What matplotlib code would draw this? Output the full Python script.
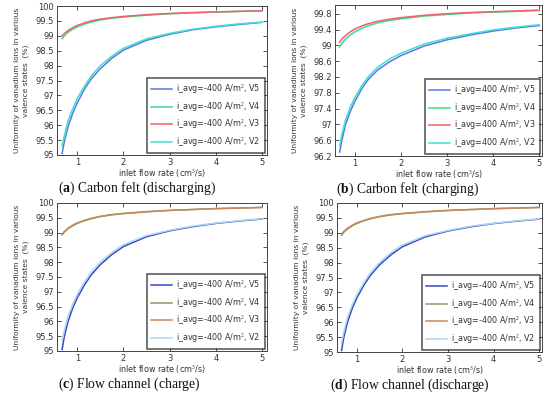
import matplotlib
matplotlib.use("Agg")
import matplotlib.pyplot as plt

# inlet flow rate (cm3/s)
flow = [0.67, 0.72, 0.8, 0.9, 1.0, 1.15, 1.3, 1.5, 1.75, 2.0, 2.5, 3.0, 3.5, 4.0, 4.5, 5.0]

# (a) carbon felt, discharging
a_v5 = [95.05, 95.45, 95.95, 96.4, 96.75, 97.2, 97.55, 97.9, 98.25, 98.52, 98.85, 99.05, 99.2, 99.3, 99.38, 99.45]
a_v4 = [98.9, 99.0, 99.12, 99.22, 99.3, 99.39, 99.46, 99.53, 99.59, 99.63, 99.69, 99.74, 99.77, 99.8, 99.82, 99.84]
a_v3 = [99.0, 99.08, 99.18, 99.27, 99.35, 99.43, 99.5, 99.56, 99.61, 99.65, 99.71, 99.75, 99.78, 99.8, 99.82, 99.84]
a_v2 = [95.3, 95.65, 96.15, 96.55, 96.9, 97.3, 97.65, 98.0, 98.32, 98.58, 98.9, 99.08, 99.22, 99.32, 99.4, 99.46]

# (b) carbon felt, charging
b_v5 = [96.3, 96.6, 97.0, 97.32, 97.58, 97.9, 98.15, 98.38, 98.58, 98.74, 98.98, 99.14, 99.26, 99.36, 99.44, 99.5]
b_v4 = [98.96, 99.05, 99.16, 99.26, 99.34, 99.43, 99.5, 99.57, 99.63, 99.67, 99.74, 99.78, 99.82, 99.84, 99.86, 99.88]
b_v3 = [99.08, 99.16, 99.25, 99.34, 99.41, 99.49, 99.55, 99.61, 99.66, 99.7, 99.76, 99.8, 99.83, 99.85, 99.87, 99.89]
b_v2 = [96.45, 96.75, 97.12, 97.43, 97.68, 97.98, 98.22, 98.45, 98.65, 98.8, 99.03, 99.18, 99.29, 99.39, 99.46, 99.52]

# (c) flow channel, charge
c_v5 = [95.05, 95.5, 96.0, 96.45, 96.8, 97.22, 97.57, 97.92, 98.26, 98.53, 98.86, 99.06, 99.2, 99.31, 99.39, 99.46]
c_v4 = [98.92, 99.02, 99.13, 99.23, 99.31, 99.4, 99.47, 99.54, 99.6, 99.64, 99.7, 99.75, 99.78, 99.81, 99.83, 99.85]
c_v3 = [98.95, 99.04, 99.15, 99.25, 99.33, 99.41, 99.48, 99.55, 99.61, 99.65, 99.71, 99.75, 99.78, 99.81, 99.83, 99.85]
c_v2 = [95.35, 95.7, 96.18, 96.58, 96.92, 97.32, 97.66, 98.0, 98.33, 98.59, 98.9, 99.08, 99.22, 99.32, 99.4, 99.47]

# (d) flow channel, discharge
d_v5 = [95.05, 95.5, 96.0, 96.45, 96.8, 97.22, 97.57, 97.92, 98.26, 98.53, 98.86, 99.06, 99.2, 99.31, 99.39, 99.46]
d_v4 = [98.92, 99.02, 99.13, 99.23, 99.31, 99.4, 99.47, 99.54, 99.6, 99.64, 99.7, 99.75, 99.78, 99.81, 99.83, 99.85]
d_v3 = [98.96, 99.05, 99.15, 99.25, 99.33, 99.41, 99.48, 99.55, 99.61, 99.65, 99.71, 99.75, 99.78, 99.81, 99.83, 99.85]
d_v2 = [95.3, 95.68, 96.16, 96.57, 96.91, 97.31, 97.65, 98.0, 98.33, 98.59, 98.9, 99.08, 99.22, 99.32, 99.4, 99.47]

labels_neg = ["i_avg=-400 A/m$^2$, V5", "i_avg=-400 A/m$^2$, V4",
              "i_avg=-400 A/m$^2$, V3", "i_avg=-400 A/m$^2$, V2"]
labels_pos = ["i_avg=400 A/m$^2$, V5", "i_avg=400 A/m$^2$, V4",
              "i_avg=400 A/m$^2$, V3", "i_avg=400 A/m$^2$, V2"]

colors_felt = ["#5b78e0", "#3ed88a", "#f0606a", "#3fe0d0"]
colors_chan = ["#3a45c8", "#8c9a6a", "#c8885a", "#a8d8f0"]

ticks_a = [95, 95.5, 96, 96.5, 97, 97.5, 98, 98.5, 99, 99.5, 100]
ticklabels_a = ["95", "95.5", "96", "96.5", "97", "97.5", "98", "98.5", "99", "99.5", "100"]
ticks_b = [96.2, 96.6, 97.0, 97.4, 97.8, 98.2, 98.6, 99.0, 99.4, 99.8]
ticklabels_b = ["96.2", "96.6", "97", "97.4", "97.8", "98.2", "98.6", "99", "99.4", "99.8"]

plt.rcParams["mathtext.fontset"] = "custom"
plt.rcParams["mathtext.rm"] = "Liberation Serif"
plt.rcParams["mathtext.bf"] = "Liberation Serif:bold"

W, H = 550, 394
fig = plt.figure(figsize=(5.5, 3.94), dpi=100)

def px_axes(l, t, r, b):
    return fig.add_axes([l / W, 1 - b / H, (r - l) / W, (b - t) / H])

panels = [
    # box(l,t,r,b), series, labels, colors, yticks, yticklabels, ylim, xlim, caption letter, caption text, caption x
    ((57, 6, 267, 155), [a_v5, a_v4, a_v3, a_v2], labels_neg, colors_felt, ticks_a, ticklabels_a,
     (95, 100), (0.56, 5.11), "a", "Carbon felt (discharging)", 137),
    ((335, 5, 542, 156), [b_v5, b_v4, b_v3, b_v2], labels_pos, colors_felt, ticks_b, ticklabels_b,
     (96.2, 100.02), (0.57, 5.06), "b", "Carbon felt (charging)", 408),
    ((57, 203, 267, 351), [c_v5, c_v4, c_v3, c_v2], labels_neg, colors_chan, ticks_a, ticklabels_a,
     (95, 100), (0.56, 5.11), "c", "Flow channel (charge)", 129),
    ((337, 203, 542, 352), [d_v5, d_v4, d_v3, d_v2], labels_neg, colors_chan, ticks_a, ticklabels_a,
     (95, 100), (0.57, 5.06), "d", "Flow channel (discharge)", 410),
]

for box, series, labels, colors, yt, ytl, ylim, xlim, letter, cap, capx in panels:
    ax = px_axes(*box)
    for ys, lab, col in zip(series, labels, colors):
        ax.plot(flow, ys, color=col, lw=1.1, label=lab)
    ax.set_xlim(*xlim)
    ax.set_ylim(*ylim)
    ax.set_yticks(yt)
    ax.set_yticklabels(ytl)
    ax.set_xticks([1, 2, 3, 4, 5])
    ax.tick_params(direction="in", top=True, right=True, length=3, width=0.6,
                   labelsize=6, colors="#333333", pad=2)
    for sp in ax.spines.values():
        sp.set_color("#444444")
        sp.set_linewidth(0.7)
    ax.set_xlabel("inlet flow rate (cm$^3$/s)", fontsize=5.8, color="#333333", labelpad=0.5)
    ax.set_ylabel("Uniformity of vanadium ions in various\nvalence states  (%)",
                  fontsize=5.4, color="#333333", labelpad=5, linespacing=1.5)
    leg = ax.legend(loc="lower right", fontsize=5.8, frameon=True, fancybox=False,
                    borderaxespad=0.25, handlelength=2.6, labelspacing=0.5,
                    borderpad=0.5, handletextpad=0.5)
    leg.get_frame().set_edgecolor("#222222")
    leg.get_frame().set_linewidth(1.1)
    for t in leg.get_texts():
        t.set_color("#333333")
    capy = box[3] + 33
    fig.text(capx / W, 1 - capy / H, r"($\mathbf{" + letter + r"}$) " + cap,
             ha="center", va="center", fontsize=9.8, family="Liberation Serif", color="#111111")

fig.savefig("out.png", dpi=100)
